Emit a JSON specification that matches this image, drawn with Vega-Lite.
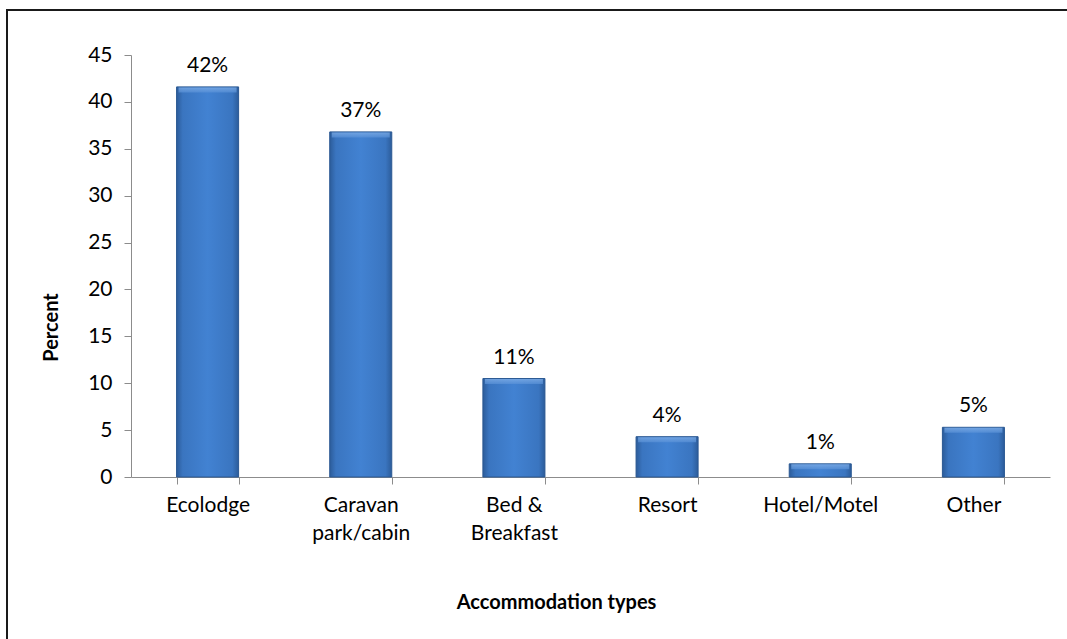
{
  "$schema": "https://vega.github.io/schema/vega-lite/v6.json",
  "width": 919,
  "height": 422,
  "autosize": {"type": "none"},
  "padding": {"left": 131, "top": 55, "right": 17, "bottom": 162},
  "background": "white",
  "config": {
    "font": "Lato",
    "view": {"stroke": null},
    "axis": {"grid": false, "domainColor": "#8c8c8c", "tickColor": "#8c8c8c", "labelColor": "#000000", "titleColor": "#000000", "labelFont": "Lato", "titleFont": "Lato"}
  },
  "data": {
    "values": [
      {"type": "Ecolodge", "percent": 41.6},
      {"type": "Caravan park/cabin", "percent": 36.8},
      {"type": "Bed & Breakfast", "percent": 10.5},
      {"type": "Resort", "percent": 4.3},
      {"type": "Hotel/Motel", "percent": 1.4},
      {"type": "Other", "percent": 5.3}
    ]
  },
  "encoding": {
    "x": {
      "field": "type",
      "type": "nominal",
      "sort": null,
      "scale": {"paddingInner": 0.595, "paddingOuter": 0.2975},
      "axis": {
        "title": "Accommodation types",
        "labelAngle": 0,
        "labelFontSize": 21,
        "labelPadding": 10,
        "labelLineHeight": 28,
        "labelBaseline": "top",
        "labelExpr": "datum.label == 'Caravan park/cabin' ? ['Caravan', 'park/cabin'] : datum.label == 'Bed & Breakfast' ? ['Bed &', 'Breakfast'] : datum.label",
        "tickBand": "extent",
        "tickSize": 7,
        "titleFontSize": 20,
        "titleFontWeight": "bold",
        "titleX": 425,
        "titleY": 125,
        "titleBaseline": "middle"
      }
    },
    "y": {
      "field": "percent",
      "type": "quantitative",
      "scale": {"domain": [0, 45], "nice": false},
      "axis": {
        "title": "Percent",
        "values": [0, 5, 10, 15, 20, 25, 30, 35, 40, 45],
        "labelFontSize": 21,
        "labelPadding": 12,
        "tickSize": 7,
        "titleFontSize": 20,
        "titleFontWeight": "bold",
        "titleX": -80,
        "titleY": 272,
        "titleBaseline": "middle"
      }
    }
  },
  "layer": [
    {
      "mark": {
        "type": "bar",
        "stroke": "#2a5892",
        "strokeWidth": 1,
        "color": {
          "gradient": "linear",
          "x1": 0, "y1": 0, "x2": 1, "y2": 0,
          "stops": [
            {"offset": 0, "color": "#2c5c9a"},
            {"offset": 0.1, "color": "#3a75c0"},
            {"offset": 0.5, "color": "#4282d2"},
            {"offset": 0.9, "color": "#3a75c0"},
            {"offset": 1, "color": "#2c5c9a"}
          ]
        }
      }
    },
    {
      "mark": {
        "type": "tick",
        "thickness": 5,
        "size": 58,
        "yOffset": 3,
        "color": {
          "gradient": "linear",
          "x1": 0, "y1": 0, "x2": 0, "y2": 1,
          "stops": [
            {"offset": 0, "color": "#86b3ea"},
            {"offset": 1, "color": "#5a92d8"}
          ]
        }
      }
    },
    {
      "transform": [
        {"calculate": "format(datum.percent, '.0f') + '%'", "as": "label"}
      ],
      "mark": {"type": "text", "baseline": "bottom", "dy": -11, "fontSize": 21, "color": "#000000", "font": "Lato"},
      "encoding": {
        "text": {"field": "label", "type": "nominal"}
      }
    },
    {
      "data": {"values": [{"frame": "chart area"}]},
      "mark": {"type": "rect", "fillOpacity": 0, "stroke": "#1a1a1a", "strokeWidth": 2},
      "encoding": {
        "x": {"value": -124},
        "y": {"value": -45},
        "x2": {"value": 1000},
        "y2": {"value": 700}
      }
    }
  ]
}
